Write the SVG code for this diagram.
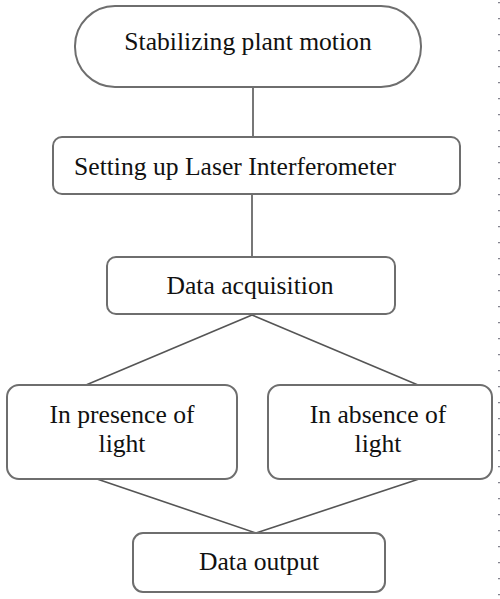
<svg xmlns="http://www.w3.org/2000/svg" width="500" height="599" viewBox="0 0 500 599">
<style>
.box{fill:#fff;stroke:#6e6e6e;stroke-width:2}
.lnk{stroke:#555;stroke-width:1.6;fill:none}
.t{font-family:"Liberation Serif","Times New Roman",serif;font-size:25.6px;fill:#111;text-anchor:middle}
</style>
<rect width="500" height="599" fill="#fff"/>
<line x1="499" y1="2" x2="499" y2="599" stroke="#334" stroke-width="1.2" stroke-dasharray="1.2 14.8"/>
<g id="connectors">
<line class="lnk" x1="253" y1="87" x2="253" y2="137"/>
<line class="lnk" x1="252" y1="195" x2="252" y2="257"/>
<line class="lnk" x1="252" y1="315" x2="86" y2="385"/>
<line class="lnk" x1="252" y1="315" x2="418" y2="385"/>
<line class="lnk" x1="97" y1="479" x2="256" y2="533"/>
<line class="lnk" x1="419" y1="479" x2="256" y2="533"/>
</g>
<g id="n1"><rect class="box" x="75" y="6" width="346" height="81" rx="40" ry="40"/><text class="t" x="248" y="50">Stabilizing plant motion</text></g>
<g id="n2"><rect class="box" x="53" y="137" width="407" height="57" rx="9"/><text class="t" x="235" y="175">Setting up Laser Interferometer</text></g>
<g id="n3"><rect class="box" x="107" y="257" width="288" height="57" rx="9"/><text class="t" x="250" y="294">Data acquisition</text></g>
<g id="n4"><rect class="box" x="7" y="385" width="230" height="94" rx="12"/><text class="t" x="122" y="423">In presence of</text><text class="t" x="122" y="452">light</text></g>
<g id="n5"><rect class="box" x="268" y="385" width="224" height="94" rx="12"/><text class="t" x="378" y="423">In absence of</text><text class="t" x="378" y="452">light</text></g>
<g id="n6"><rect class="box" x="133" y="533" width="252" height="59" rx="10"/><text class="t" x="259" y="570">Data output</text></g>
</svg>
